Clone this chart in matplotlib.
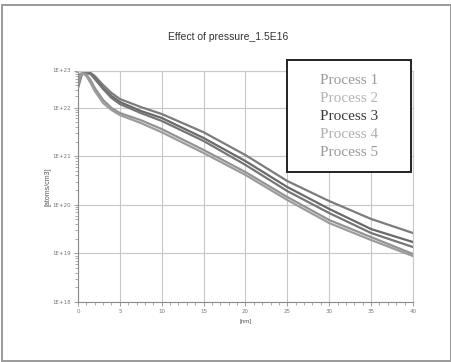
import numpy as np
import matplotlib
matplotlib.use("Agg")
import matplotlib.pyplot as plt
from matplotlib.patches import Rectangle
from matplotlib.ticker import FixedLocator, NullFormatter

# ---- data ----
depth_nm = [0, 0.5, 1, 1.5, 2, 3, 4, 5, 7.5, 10, 15, 20, 25, 30, 35, 40]
process_1 = [3.37e22, 8.3e22, 8.6e22, 8.6e22, 7.1e22, 4.05e22, 2.47e22, 1.70e22, 1.03e22,
             7.35e21, 3.1e21, 1.05e21, 3.07e20, 1.19e20, 5.1e19, 2.62e19]
process_2 = [7.1e22, 8.6e22, 8.6e22, 8.3e22, 6.27e22, 3.37e22, 2.05e22, 1.41e22, 8.5e21,
             6.1e21, 2.36e21, 7.9e20, 2.31e20, 8.2e19, 3.16e19, 1.71e19]
process_3 = [5.5e22, 8.6e22, 8.6e22, 8.0e22, 5.9e22, 3.16e22, 1.81e22, 1.24e22, 7.7e21,
             5.3e21, 2.05e21, 6.6e20, 1.91e20, 6.75e19, 2.62e19, 1.35e19]
process_4 = [4.05e22, 8.6e22, 7.8e22, 5.5e22, 3.37e22, 1.60e22, 9.8e21, 7.7e21, 5.5e21,
             3.6e21, 1.34e21, 4.7e20, 1.44e20, 4.85e19, 2.16e19, 9.7e18]
process_5 = [6.27e22, 8.6e22, 7.1e22, 4.6e22, 2.79e22, 1.32e22, 8.9e21, 7.0e21, 4.8e21,
             3.1e21, 1.16e21, 4.1e20, 1.25e20, 4.2e19, 1.88e19, 8.8e18]
series = [process_1, process_2, process_3, process_4, process_5]
labels = ["Process 1", "Process 2", "Process 3", "Process 4", "Process 5"]
line_colors = ["#7c7c7c", "#6a6a6a", "#767676", "#939393", "#9c9c9c"]
label_colors = ["#9a9a9a", "#b4b4b4", "#3a3a3a", "#b0b0b0", "#9a9a9a"]
x_ticks = [0, 5, 10, 15, 20, 25, 30, 35, 40]
y_ticks = [1e18, 1e19, 1e20, 1e21, 1e22, 1e23]
y_ticklabels = ["1E+18", "1E+19", "1E+20", "1E+21", "1E+22", "1E+23"]

# the picture's top decade is drawn shorter than the others
TOP_K = 37 / 48.6


def fwd(v):
    l = np.log10(np.clip(v, 1e-300, None))
    return np.where(l <= 22, l, 22 + (l - 22) * TOP_K)


def inv(u):
    u = np.asarray(u, dtype=float)
    return np.power(10.0, np.where(u <= 22, u, 22 + (u - 22) / TOP_K))


W, H = 452, 362
fig = plt.figure(figsize=(W / 100, H / 100), dpi=100)
fig.patches.append(Rectangle((2 / W, 1 / H), 449 / W, 356 / H,
                             transform=fig.transFigure, fill=False,
                             edgecolor="#9a9a9a", linewidth=1.4))

ax = fig.add_axes([78 / W, 1 - 302 / H, 335 / W, 231.5 / H])
ax.set_yscale("function", functions=(fwd, inv))

for vals, c, lab in zip(series, line_colors, labels):
    ax.plot(depth_nm, vals, color=c, linewidth=1.6, label=lab)

ax.set_xlim(0, 40)
ax.set_ylim(1e18, 1e23)
ax.xaxis.set_major_locator(FixedLocator(x_ticks))
ax.set_xticklabels([str(t) for t in x_ticks])
ax.xaxis.set_minor_locator(FixedLocator(np.arange(0, 41, 1)))
ax.yaxis.set_major_locator(FixedLocator(y_ticks))
ax.set_yticklabels(y_ticklabels)
minors = [m * 10.0 ** e for e in range(18, 23) for m in range(2, 10)]
ax.yaxis.set_minor_locator(FixedLocator(minors))
ax.yaxis.set_minor_formatter(NullFormatter())

ax.grid(True, which="major", color="#c8c8c8", linewidth=0.8)
for s in ax.spines.values():
    s.set_color("#c8c8c8")
    s.set_linewidth(0.8)
ax.spines["left"].set_color("#8a8a8a")
ax.spines["bottom"].set_color("#8a8a8a")
ax.tick_params(axis="both", which="major", labelsize=4, colors="#8a8a8a",
               labelcolor="#777777", length=3, width=0.6, pad=2)
ax.tick_params(axis="both", which="minor", colors="#8a8a8a", length=2, width=0.5)

ax.set_xlabel("[nm]", fontsize=4.5, color="#555555", labelpad=4,
              family="Liberation Sans")
ax.set_ylabel("[atoms/cm3]", fontsize=5, color="#555555", labelpad=1,
              family="Liberation Sans")

fig.text(228 / W, 1 - 37 / H, "Effect of pressure_1.5E16", ha="center",
         va="center", fontsize=7.5, color="#333333", family="Liberation Sans")

# legend box drawn as in the picture: a framed box with centred coloured names
fig.patches.append(Rectangle((287 / W, 1 - 172 / H), 124 / W, 112 / H,
                             transform=fig.transFigure, facecolor="white",
                             edgecolor="#222222", linewidth=1.4, zorder=5))
label_y_px = [80, 98, 116.5, 135, 153]
for lab, c, ypx in zip(labels, label_colors, label_y_px):
    fig.text(349 / W, 1 - ypx / H, lab, ha="center", va="center", fontsize=11,
             color=c, family="Liberation Serif", zorder=6)

fig.savefig("out.png", dpi=100)
